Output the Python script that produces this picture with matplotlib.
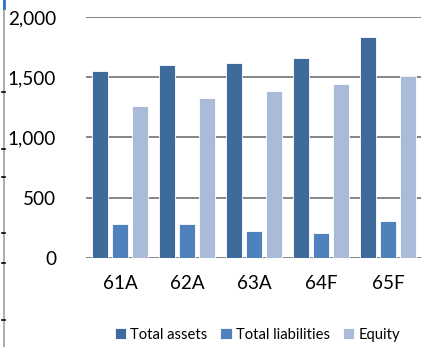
import matplotlib
matplotlib.use('Agg')
import matplotlib.pyplot as plt
from matplotlib.lines import Line2D
import numpy as np

plt.rcParams['font.family'] = ['Lato', 'DejaVu Sans']

# Data
years = ['61A', '62A', '63A', '64F', '65F']
total_assets = [1550, 1605, 1620, 1660, 1830]
total_liabilities = [280, 280, 220, 210, 305]
equity = [1265, 1325, 1390, 1445, 1510]

series = {'Total assets': (total_assets, '#3F6A9C'),
          'Total liabilities': (total_liabilities, '#4F81BD'),
          'Equity': (equity, '#AABAD9')}

fig = plt.figure(figsize=(4.29, 3.47), dpi=100)
ax = fig.add_axes([0.2016, 0.2565, 0.7809, 0.6945])

x = np.arange(len(years))
offsets = [-0.3, 0.0, 0.3]
for off, (name, (vals, col)) in zip(offsets, series.items()):
    ax.bar(x + off, vals, width=0.235, color=col, edgecolor='white', lw=0.6,
           label=name, zorder=3)

ax.set_xlim(-0.5, 4.5)
ax.set_ylim(0, 2000)
ax.set_yticks(range(0, 2001, 500))
ax.set_yticklabels(['{:,}'.format(v) for v in range(0, 2001, 500)])
ax.set_xticks(x)
ax.set_xticklabels(years)
ax.yaxis.grid(True, color='#868686', lw=1.4, zorder=0)
ax.tick_params(axis='both', length=0, labelsize=13.6, colors='black')
ax.tick_params(axis='y', pad=22)
ax.tick_params(axis='x', pad=12)
for s in ['top', 'right', 'left', 'bottom']:
    ax.spines[s].set_visible(False)

fig.legend(loc='center', bbox_to_anchor=(0.6, 0.035), ncol=3, frameon=False,
           fontsize=10.6, handlelength=0.75, handleheight=0.75, handletextpad=0.3,
           columnspacing=0.9, borderaxespad=0)

# cropped edge of neighbouring sheet on the left
fig.add_artist(Line2D([3.5 / 429, 3.5 / 429], [0, 1], color='#A0A0A0', lw=1.2))
for yp in [92, 149, 177, 233, 263, 320]:
    yy = 1 - yp / 347
    fig.add_artist(Line2D([2 / 429, 5 / 429], [yy, yy], color='black', lw=1.2))
fig.add_artist(Line2D([3.5 / 429, 3.5 / 429], [1 - 8 / 347, 1], color='#2F6FD6', lw=2))

fig.savefig('out.png', dpi=100)
